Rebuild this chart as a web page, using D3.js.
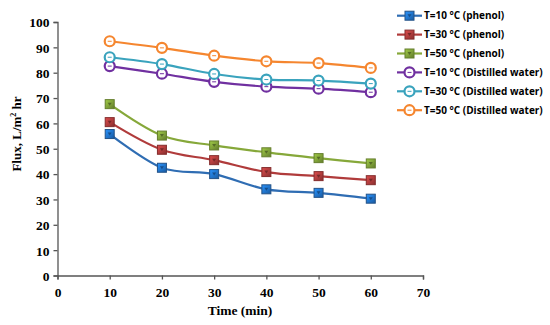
<!DOCTYPE html>
<html>
<head>
<meta charset="utf-8">
<script src="https://cdn.jsdelivr.net/npm/d3@7"></script>
<style>
  body { margin: 0; background: #fff; }
  .tick text { font-family: "Liberation Serif", "Times New Roman", serif; font-weight: bold; font-size: 13.5px; fill: #000; }
</style>
</head>
<body>
<svg id="chart" width="550" height="325"></svg>
<script>
var times = [10, 20, 30, 40, 50, 60];
var seriesNames = ["T=10 °C (phenol)", "T=30 °C (phenol)", "T=50 °C (phenol)",
  "T=10 °C (Distilled water)", "T=30 °C (Distilled water)", "T=50 °C (Distilled water)"];
var t10Phenol = [55.8, 42.5, 40.0, 34.0, 32.6, 30.3];
var t30Phenol = [60.5, 49.6, 45.5, 40.8, 39.2, 37.6];
var t50Phenol = [67.6, 55.2, 51.3, 48.6, 46.3, 44.2];
var t10Water = [82.6, 79.6, 76.4, 74.5, 73.7, 72.3];
var t30Water = [86.1, 83.4, 79.5, 77.3, 76.9, 75.7];
var t50Water = [92.4, 89.8, 86.7, 84.5, 83.8, 81.9];
var xTicks = [0, 10, 20, 30, 40, 50, 60, 70];
var yTicks = [0, 10, 20, 30, 40, 50, 60, 70, 80, 90, 100];

var colors = ["#2f6db3", "#b03b3b", "#86a83a", "#7030a0", "#3aa3bd", "#f5862f"];
var fills  = ["#1f6fc6", "#a83a3a", "#7a9a36", "#fff", "#fff", "#fff"];
var allValues = [t10Phenol, t30Phenol, t50Phenol, t10Water, t30Water, t50Water];

var svg = d3.select("#chart");
var x = d3.scaleLinear().domain([0, 70]).range([57.5, 423]);
var y = d3.scaleLinear().domain([0, 100]).range([275.5, 22]);

var axisColor = "#555";
var gx = svg.append("g").attr("transform", "translate(0,275.5)")
  .call(d3.axisBottom(x).tickValues(xTicks).tickSize(4).tickPadding(8));
var gy = svg.append("g").attr("transform", "translate(57.5,0)")
  .call(d3.axisLeft(y).tickValues(yTicks).tickSize(4).tickPadding(4));
[gx, gy].forEach(function(g) {
  g.select(".domain").attr("stroke", axisColor).attr("stroke-width", 1.3);
  g.selectAll(".tick line").attr("stroke", axisColor).attr("stroke-width", 1.3);
});
gy.selectAll(".tick text").attr("dy", "0.36em");

svg.append("text").attr("x", 240).attr("y", 315).attr("text-anchor", "middle")
  .style("font-family", "Liberation Serif, serif").style("font-weight", "bold").style("font-size", "13.5px")
  .text("Time (min)");
var yt = svg.append("text").attr("transform", "translate(21,134) rotate(-90)").attr("text-anchor", "middle")
  .style("font-family", "Liberation Serif, serif").style("font-weight", "bold").style("font-size", "13px");
yt.append("tspan").text("Flux,  L/m");
yt.append("tspan").attr("dy", "-5").style("font-size", "8px").text("2");
yt.append("tspan").attr("dy", "5").text(" hr");

var defs = svg.append("defs");
[0, 1, 2].forEach(function(i) {
  var gr = defs.append("linearGradient").attr("id", "grad" + i)
    .attr("x1", 0).attr("y1", 0).attr("x2", 1).attr("y2", 1);
  gr.append("stop").attr("offset", "0%").attr("stop-color", d3.color(fills[i]).brighter(0.8));
  gr.append("stop").attr("offset", "100%").attr("stop-color", d3.color(fills[i]).darker(0.6));
});

var line = d3.line().curve(d3.curveCatmullRom.alpha(0))
  .x(function(d, i) { return x(times[i]); })
  .y(function(d) { return y(d); });

function drawMarker(g, i, cx, cy) {
  if (i < 3) {
    g.append("rect").attr("x", cx - 4.5).attr("y", cy - 4.5).attr("width", 9).attr("height", 9)
      .attr("fill", "url(#grad" + i + ")").attr("stroke", d3.color(colors[i]).darker(0.8)).attr("stroke-width", 1);
    g.append("path").attr("d", "M" + (cx - 2) + "," + (cy - 1.5) + "L" + (cx + 2) + "," + (cy - 1.5) + "L" + cx + "," + (cy + 1.5) + "Z")
      .attr("fill", d3.color(fills[i]).darker(1));
  } else {
    g.append("circle").attr("cx", cx).attr("cy", cy).attr("r", 5)
      .attr("fill", "#fff").attr("stroke", colors[i]).attr("stroke-width", 2.2);
    g.append("line").attr("x1", cx - 2).attr("x2", cx + 2).attr("y1", cy).attr("y2", cy)
      .attr("stroke", colors[i]).attr("stroke-width", 1);
  }
}

allValues.forEach(function(vals, i) {
  var g = svg.append("g");
  g.append("path").attr("d", line(vals)).attr("fill", "none")
    .attr("stroke", colors[i]).attr("stroke-width", 2.2);
  vals.forEach(function(v, j) { drawMarker(g, i, x(times[j]), y(v)); });
});

// legend
var lg = svg.append("g");
seriesNames.forEach(function(name, i) {
  var ly = 15.7 + i * 18.9;
  lg.append("line").attr("x1", 397).attr("x2", 422).attr("y1", ly).attr("y2", ly)
    .attr("stroke", colors[i]).attr("stroke-width", 2.2);
  drawMarker(lg, i, 409.5, ly);
  lg.append("text").attr("x", 424).attr("y", ly).attr("dy", "0.35em")
    .style("font-family", "Open Sans, sans-serif").style("font-weight", "bold").style("font-size", "10px")
    .attr("fill", "#000").text(name);
});
</script>
</body>
</html>
